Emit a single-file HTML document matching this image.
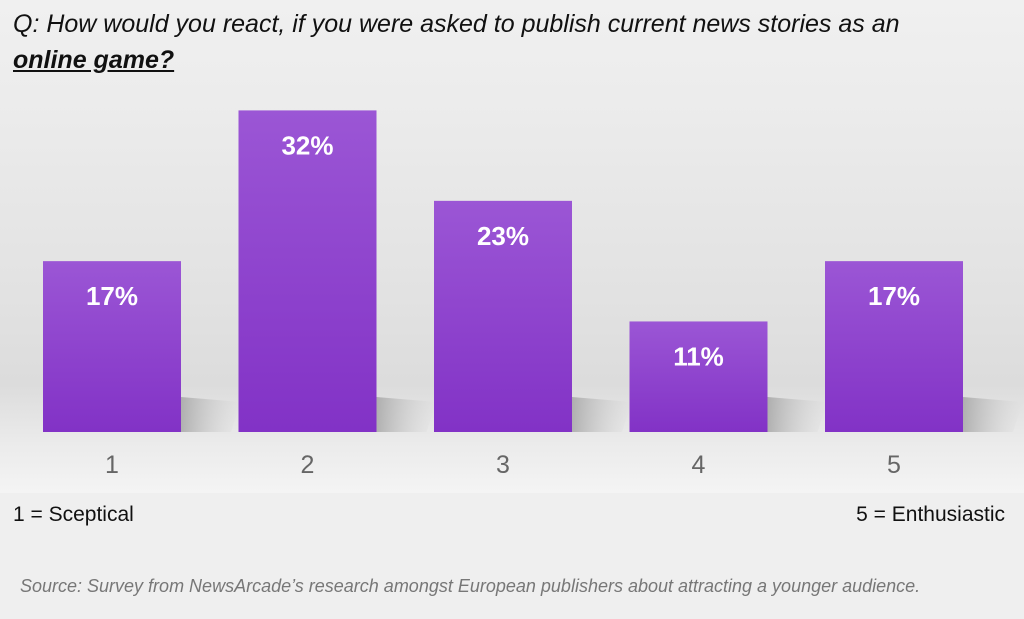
<!DOCTYPE html>
<html><head><meta charset="utf-8"><style>
body{margin:0;width:1024px;height:619px;overflow:hidden;background:#efefef;font-family:"Liberation Sans",sans-serif;position:relative}
#chartbg{position:absolute;left:0;top:0;width:1024px;height:493px;background:linear-gradient(#f0f0f0 0%,#ececec 20%,#e2e2e2 60%,#dcdcdc 78%,#ebebeb 90%,#f4f4f4 100%)}
.t{position:absolute;color:#111}
</style></head><body>
<div id="chartbg"></div>
<div class="t" style="left:13px;top:6px;font-size:25px;font-style:italic;line-height:36px;width:1000px">Q: How would you react, if you were asked to publish current news stories as an<br><b style="text-decoration:underline">online game?</b></div>
<svg id="chart" width="1024" height="619" style="position:absolute;left:0;top:0">
<defs>
<linearGradient id="bg" x1="0" y1="0" x2="0" y2="1"><stop offset="0" stop-color="#9b56d5"/><stop offset="1" stop-color="#8232c6"/></linearGradient>
<linearGradient id="sh" x1="0" y1="0" x2="1" y2="0"><stop offset="0" stop-color="#999" stop-opacity="0.7"/><stop offset="1" stop-color="#ccc" stop-opacity="0"/></linearGradient>
</defs>
</svg>
<div class="t" style="left:13px;top:503px;font-size:21px">1 = Sceptical</div>
<div class="t" style="right:19px;top:503px;font-size:21px">5 = Enthusiastic</div>
<div class="t" style="left:20px;top:576px;font-size:18px;font-style:italic;color:#777">Source: Survey from NewsArcade’s research amongst European publishers about attracting a younger audience.</div>
<script>
const categories=["1","2","3","4","5"];
const values=[17,32,23,11,17];
const labels=["17%","32%","23%","11%","17%"];
const svg=document.getElementById('chart');
const NS='http://www.w3.org/2000/svg';
const baseY=432, pxPer=10.05, x0=43, step=195.5, bw=138;
function xPos(i){return x0+i*step;}
function yPos(v){return baseY-v*pxPer;}
categories.forEach((c,i)=>{
  const x=xPos(i), y=yPos(values[i]);
  const s=document.createElementNS(NS,'polygon');
  
  
  s.setAttribute('points',`${x+bw},${baseY} ${x+bw},${baseY-35} ${x+bw+60},${baseY-30} ${x+bw+50},${baseY}`);
  s.setAttribute('fill','url(#sh)');svg.appendChild(s);
  const r=document.createElementNS(NS,'rect');
  
  
  r.setAttribute('x',x);r.setAttribute('y',y);r.setAttribute('width',bw);r.setAttribute('height',baseY-y);
  r.setAttribute('fill','url(#bg)');svg.appendChild(r);
  const t=document.createElementNS(NS,'text');
  
  
  t.setAttribute('x',x+bw/2);t.setAttribute('y',y+44);t.setAttribute('text-anchor','middle');
  t.setAttribute('font-size','26');t.setAttribute('font-weight','bold');t.setAttribute('fill','#fff');
  t.setAttribute('font-family','Liberation Sans, sans-serif');
  t.textContent=labels[i];svg.appendChild(t);
  const k=document.createElementNS(NS,'text');
  
  
  k.setAttribute('x',x+bw/2);k.setAttribute('y',473);k.setAttribute('text-anchor','middle');
  k.setAttribute('font-size','25');k.setAttribute('fill','#666');
  k.setAttribute('font-family','Liberation Sans, sans-serif');
  k.textContent=c;svg.appendChild(k);
});
</script>
</body></html>
